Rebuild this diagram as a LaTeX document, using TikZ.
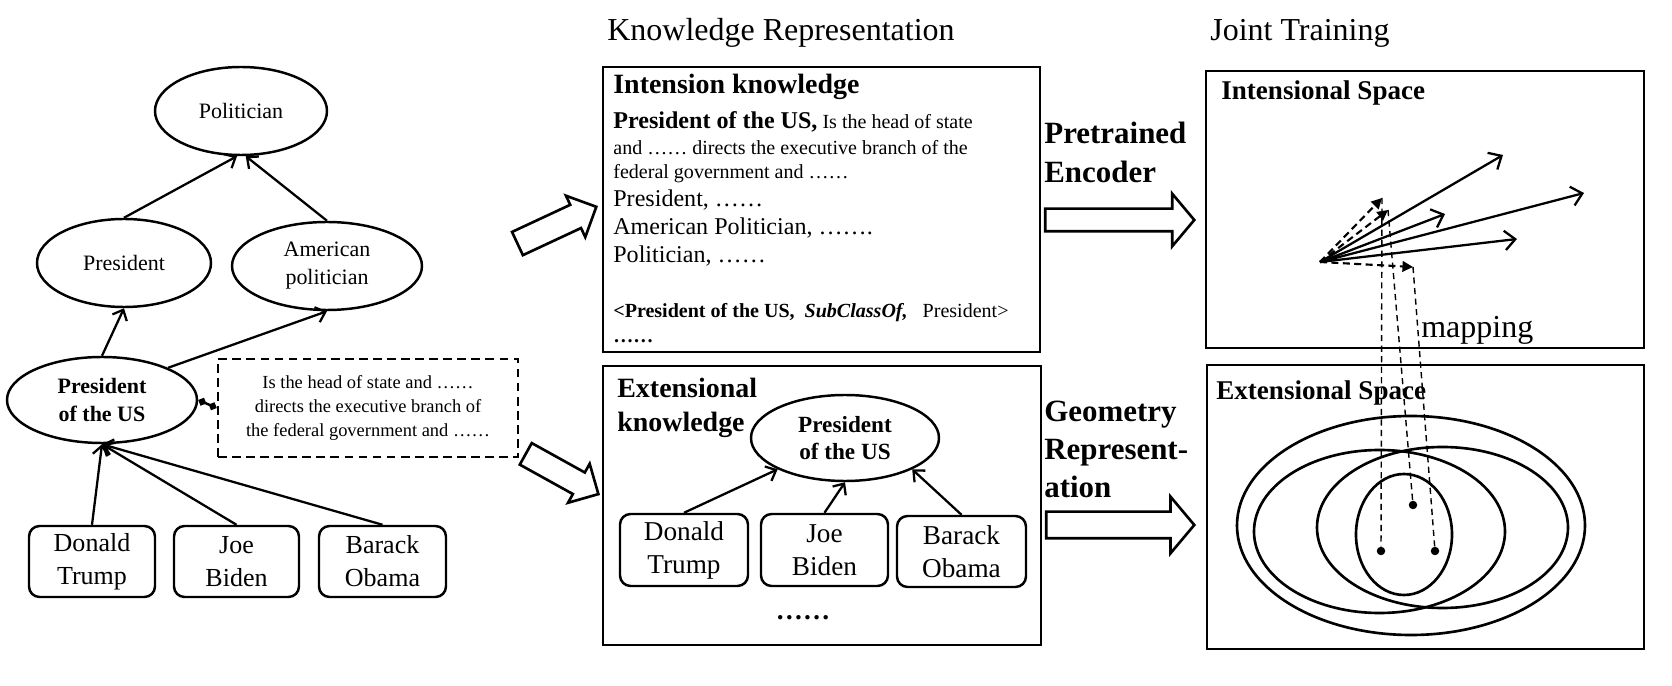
\documentclass[tikz,border=0pt]{standalone}
\usepackage{fontspec}
\setmainfont{Liberation Serif}
\usetikzlibrary{shapes.geometric,shapes.arrows,arrows.meta}

\begin{document}
\begin{tikzpicture}[
    concept/.style={ellipse, draw, line width=1.4pt, inner sep=0pt, align=center, font={\fontsize{12.5}{16}\selectfont}},
    entity/.style={rectangle, rounded corners=6pt, draw, line width=1.4pt, inner sep=0pt, align=center},
    panel/.style={rectangle, draw, line width=1.5pt, inner sep=0pt},
    gloss/.style={rectangle, draw, dash pattern=on 5pt off 3pt, line width=1.4pt, inner sep=0pt, align=center, font={\fontsize{10.5}{13.4}\selectfont}},
    setshape/.style={ellipse, draw, line width=1.5pt, inner sep=0pt},
    point/.style={circle, fill, inner sep=0pt, minimum size=0.17cm},
    hollow/.style={single arrow, draw, line width=1.5pt, inner xsep=0pt, anchor=tip},
    heading/.style={anchor=base west, inner sep=0pt, font={\fontsize{18.2}{22}\selectfont}},
    textline/.style={anchor=base west, inner sep=0pt},
    stage/.style={anchor=base west, inner sep=0pt, font={\bfseries\fontsize{17.6}{21}\selectfont}},
    isa/.style={-{Straight Barb[length=5pt,width=9pt]}, line width=1.3pt},
    vec/.style={-{Straight Barb[length=6pt,width=11pt]}, line width=1.3pt},
    mapvec/.style={-{Triangle[length=6pt,width=6pt]}, dash pattern=on 4pt off 2.5pt, line width=1.2pt},
    maplink/.style={dash pattern=on 3.5pt off 2.5pt, line width=0.8pt},
    attach/.style={{Diamond[length=5pt,width=5pt]}-{Diamond[length=5pt,width=5pt]}, dash pattern=on 3pt off 2pt, line width=1.4pt}
]
\useasboundingbox (0,0) rectangle (33.44,-13.72);

% titles
\node[heading] (krtitle) at (12.14,-0.82) {Knowledge Representation};
\node[heading] (jttitle) at (24.20,-0.82) {Joint Training};

% concept hierarchy
\node[concept, minimum width=3.44cm, minimum height=1.76cm] (pol) at (4.82,-2.22) {Politician};
\node[concept, minimum width=3.48cm, minimum height=1.76cm] (pres) at (2.48,-5.26) {President};
\node[concept, minimum width=3.80cm, minimum height=1.76cm] (amer) at (6.54,-5.32) {American\\politician};
\node[concept, minimum width=3.80cm, minimum height=1.72cm, font={\bfseries\fontsize{12.5}{16}\selectfont}] (presus) at (2.04,-8.00) {President\\of the US};
\node[gloss, minimum width=6.00cm, minimum height=1.96cm] (desc) at (7.36,-8.16) {Is the head of state and ……\\directs the executive branch of\\the federal government and ……};

\node[entity, minimum width=2.52cm, minimum height=1.42cm, font={\fontsize{14.8}{18.8}\selectfont}] (trump) at (1.84,-11.23) {Donald\\Trump};
\node[entity, minimum width=2.50cm, minimum height=1.42cm, font={\fontsize{14.8}{18.8}\selectfont}] (biden) at (4.73,-11.23) {Joe\\Biden};
\node[entity, minimum width=2.54cm, minimum height=1.42cm, font={\fontsize{14.8}{18.8}\selectfont}] (obama) at (7.65,-11.23) {Barack\\Obama};

\draw[isa] (pres.north) -- (pol.265);
\draw[isa] (amer.north) -- (pol.276);
\draw[isa] (presus.north) -- (pres.south);
\draw[isa] (presus.26) -- (amer.south);
\draw[isa] (trump.north) -- (presus.south);
\draw[isa] (biden.north) -- (presus.south);
\draw[isa] (obama.north) -- (presus.south);
\draw[attach] (presus.east) -- (desc.west);

% hollow arrows into the two knowledge boxes
\node[hollow, rotate=25, inner ysep=0.23cm, minimum height=1.74cm, minimum width=0.88cm, single arrow head extend=0.2cm] (toint) at (11.96,-4.12) {};
\node[hollow, rotate=-29, inner ysep=0.22cm, minimum height=1.66cm, minimum width=0.88cm, single arrow head extend=0.2cm] (toext) at (12.00,-9.90) {};

% intension knowledge
\node[panel, minimum width=8.74cm, minimum height=5.70cm] (intbox) at (16.43,-4.19) {};
\node[textline, font={\bfseries\fontsize{15.9}{19}\selectfont}] (inttitle) at (12.26,-1.88) {Intension knowledge};
\node[textline, font={\fontsize{11.4}{14}\selectfont}] (intl1) at (12.26,-2.58) {{\bfseries\fontsize{13.7}{16}\selectfont President of the US,} Is the head of state};
\node[textline, font={\fontsize{11.4}{14}\selectfont}] (intl2) at (12.26,-3.10) {and …… directs the executive branch of the};
\node[textline, font={\fontsize{11.4}{14}\selectfont}] (intl3) at (12.26,-3.58) {federal government and ……};
\node[textline, font={\fontsize{13.7}{16}\selectfont}] (intl4) at (12.26,-4.14) {President, ……};
\node[textline, font={\fontsize{13.7}{16}\selectfont}] (intl5) at (12.26,-4.70) {American Politician, …….};
\node[textline, font={\fontsize{13.7}{16}\selectfont}] (intl6) at (12.26,-5.26) {Politician, ……};
\node[textline, font={\fontsize{11.4}{14}\selectfont}] (intl7) at (12.26,-6.36) {\textbf{<President of the US,}\ \ \textbf{\textit{SubClassOf,}}\ \ \ President>};
\node[textline, font={\bfseries\fontsize{11.4}{14}\selectfont}] (intl8) at (12.26,-6.86) {……};

% extensional knowledge
\node[panel, minimum width=8.76cm, minimum height=5.58cm] (extbox) at (16.44,-10.11) {};
\node[textline, font={\bfseries\fontsize{15.9}{19}\selectfont}] (exttitle1) at (12.34,-7.96) {Extensional};
\node[textline, font={\bfseries\fontsize{15.9}{19}\selectfont}] (exttitle2) at (12.34,-8.64) {knowledge};
\node[concept, minimum width=3.76cm, minimum height=1.72cm, font={\bfseries\fontsize{13.2}{15.4}\selectfont}] (epresus) at (16.90,-8.76) {President\\of the US};
\node[entity, minimum width=2.56cm, minimum height=1.44cm, font={\fontsize{15.5}{18.8}\selectfont}] (etrump) at (13.68,-11.00) {Donald\\Trump};
\node[entity, minimum width=2.54cm, minimum height=1.44cm, font={\fontsize{15.5}{18.8}\selectfont}] (ebiden) at (16.49,-11.00) {Joe\\Biden};
\node[entity, minimum width=2.58cm, minimum height=1.42cm, font={\fontsize{15.5}{18.8}\selectfont}] (eobama) at (19.23,-11.03) {Barack\\Obama};
\node[anchor=base, inner sep=0pt, font={\bfseries\fontsize{15.4}{18}\selectfont}] (extmore) at (16.06,-12.40) {……};

\draw[isa] (etrump.north) -- (epresus);
\draw[isa] (ebiden.north) -- (epresus.south);
\draw[isa] (eobama.north) -- (epresus.-25);

% stage labels
\node[stage] (enc1) at (20.88,-2.88) {Pretrained};
\node[stage] (enc2) at (20.88,-3.66) {Encoder};
\node[hollow, inner ysep=0.20cm, minimum height=2.98cm, minimum width=1.00cm, single arrow head extend=0.30cm, single arrow tip angle=100] (encarrow) at (23.92,-4.40) {};
\node[stage] (geo1) at (20.88,-8.44) {Geometry};
\node[stage] (geo2) at (20.88,-9.20) {Represent-};
\node[stage] (geo3) at (20.88,-9.96) {ation};
\node[hollow, inner ysep=0.24cm, minimum height=2.96cm, minimum width=1.08cm, single arrow head extend=0.30cm, single arrow tip angle=100] (geoarrow) at (23.92,-10.50) {};

% intensional space
\node[panel, minimum width=8.76cm, minimum height=5.54cm] (intsp) at (28.50,-4.19) {};
\node[textline, font={\bfseries\fontsize{15.4}{18}\selectfont}] (intsplabel) at (24.42,-2.00) {Intensional Space};
\coordinate (orig) at (26.40,-5.24);
\coordinate (va) at (30.06,-3.10);
\coordinate (vb) at (31.68,-3.86);
\coordinate (vc) at (28.90,-4.28);
\coordinate (vd) at (30.34,-4.78);
\coordinate (me) at (27.64,-3.96);
\coordinate (mf) at (27.76,-4.20);
\coordinate (mg) at (28.26,-5.34);
\draw[vec] (orig) -- (va);
\draw[vec] (orig) -- (vb);
\draw[vec] (orig) -- (vc);
\draw[vec] (orig) -- (vd);
\draw[mapvec] (orig) -- (me);
\draw[mapvec] (orig) -- (mf);
\draw[mapvec] (orig) -- (mg);
\node[textline, font={\fontsize{18.2}{22}\selectfont}] (maplabel) at (28.42,-6.76) {mapping};

% extensional space
\node[panel, minimum width=8.74cm, minimum height=5.68cm] (extsp) at (28.51,-10.14) {};
\node[textline, font={\bfseries\fontsize{15.4}{18}\selectfont}] (extsplabel) at (24.32,-8.00) {Extensional Space};
\node[setshape, minimum width=6.96cm, minimum height=4.38cm] (outerset) at (28.22,-10.51) {};
\node[setshape, minimum width=5.02cm, minimum height=3.26cm] (leftset) at (27.59,-10.63) {};
\node[setshape, minimum width=5.02cm, minimum height=3.22cm] (rightset) at (28.85,-10.55) {};
\node[setshape, minimum width=1.92cm, minimum height=2.42cm] (innerset) at (28.08,-10.69) {};
\node[point] (p1) at (27.62,-11.02) {};
\node[point] (p2) at (28.26,-10.10) {};
\node[point] (p3) at (28.70,-11.02) {};

\draw[maplink] (me) -- (p1);
\draw[maplink] (mf) -- (p2);
\draw[maplink] (mg) -- (p3);

\end{tikzpicture}
\end{document}
